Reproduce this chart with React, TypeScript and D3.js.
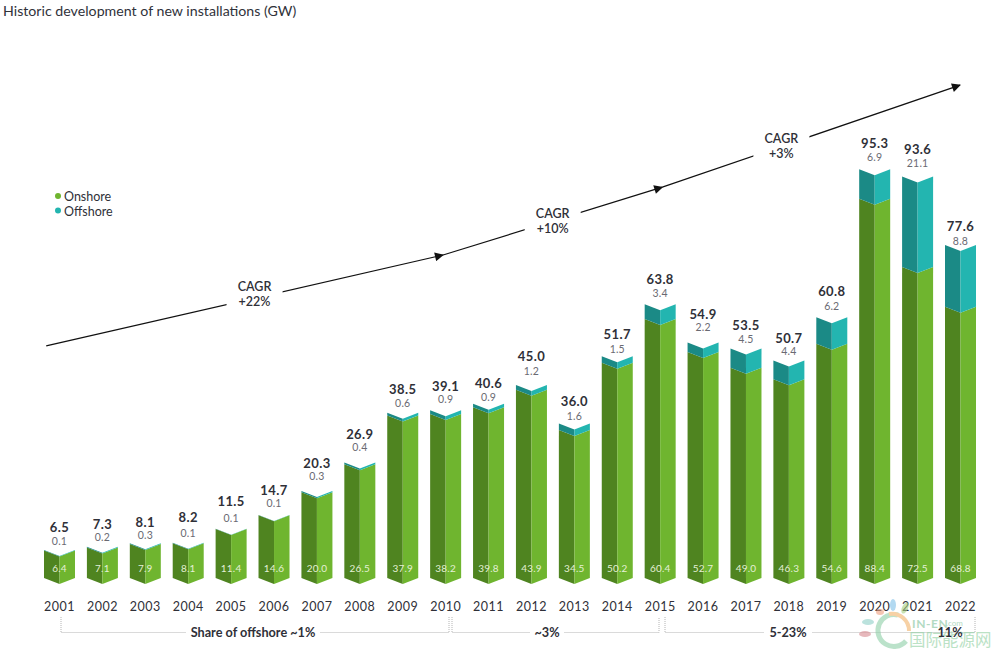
import React from "react";
import * as d3 from "d3";

const years = [2001,2002,2003,2004,2005,2006,2007,2008,2009,2010,2011,2012,2013,2014,2015,2016,2017,2018,2019,2020,2021,2022];
const onshore = [6.4,7.1,7.9,8.1,11.4,14.6,20.0,26.5,37.9,38.2,39.8,43.9,34.5,50.2,60.4,52.7,49.0,46.3,54.6,88.4,72.5,68.8];
const offshore = [0.1,0.2,0.3,0.1,0.1,0.1,0.3,0.4,0.6,0.9,0.9,1.2,1.6,1.5,3.4,2.2,4.5,4.4,6.2,6.9,21.1,8.8];
const totals = [6.5,7.3,8.1,8.2,11.5,14.7,20.3,26.9,38.5,39.1,40.6,45.0,36.0,51.7,63.8,54.9,53.5,50.7,60.8,95.3,93.6,77.6];
// The picture draws the 2022 onshore part shorter than its printed 68.8.
const onshoreDrawn = [6.4,7.1,7.9,8.1,11.4,14.6,20.0,26.5,37.9,38.2,39.8,43.9,34.5,50.2,60.4,52.7,49.0,46.3,54.6,88.4,72.5,63.2];
const arrowYears = [2000.69, 2009.94, 2015.05, 2021.99];
const arrowValues = [54.1, 75.3, 91.1, 114.9];
const cagrLabels = ["+22%", "+10%", "+3%"];

// Layout: how far above each bar its two labels sit, in px.
const totalLift = [23,22,21,25,27,24,27,28,23,24,20,28,22,22,25,28,23,22,26,26,27,19];
const subLift = [9,9,8,9,10,11,14,15,9,11,6,13,7,7,11,15,9,9,11,12,13,4];
const cagrAt = [0.525, 0.5, 0.4];
const cagrShift = [-4, 0, 0];

const FONT = "Lato, 'Noto Sans', sans-serif";
const BAR = 31, FOLD = 6;
const x = d3.scaleLinear().domain([2001, 2022]).range([59.5, 960.5]);
const y = d3.scaleLinear().domain([0, 100]).range([578, 149]);

const C = { onL: "#4f8420", onR: "#6fb52f", offL: "#1b8a86", offR: "#23b5b0", text: "#2f3038", sub: "#6a6a72" };

function segment(cx: number, a: number, b: number, side: -1 | 1) {
  const e = cx + side * BAR / 2;
  return d3.line()([[cx, y(a) + FOLD], [e, y(a)], [e, y(b)], [cx, y(b) + FOLD]]) + "Z";
}

function Bar({ i }: { i: number }) {
  const cx = x(years[i]);
  const top = y(totals[i]);
  const on = onshoreDrawn[i];
  const end = totals[i];
  return (
    <g>
      <path d={segment(cx, 0, on, -1)} fill={C.onL} />
      <path d={segment(cx, 0, on, 1)} fill={C.onR} />
      <path d={segment(cx, on, end, -1)} fill={C.offL} />
      <path d={segment(cx, on, end, 1)} fill={C.offR} />
      <text x={cx} y={top - totalLift[i] + 4.5} textAnchor="middle" fontSize={13} fontWeight={700} letterSpacing={0.4} fill={C.text}>{totals[i].toFixed(1)}</text>
      <text x={cx} y={top - subLift[i] + 3.5} textAnchor="middle" fontSize={10.5} letterSpacing={0.2} fill={C.sub}>{offshore[i].toFixed(1)}</text>
      <text x={cx} y={572} textAnchor="middle" fontSize={10} letterSpacing={0.2} fill="#e4f0d6">{onshore[i].toFixed(1)}</text>
      <text x={cx} y={611} textAnchor="middle" fontSize={12.5} letterSpacing={0.5} fill={C.text}>{years[i]}</text>
    </g>
  );
}

const bracketY = 632.5;
function Bracket({ x0, x1 }: { x0: number; x1: number }) {
  return <path d={`M${x0},617V${bracketY}H${x1}V617`} fill="none" stroke="#b4b4b4" strokeWidth={1} strokeDasharray="1 1" />;
}

export default function App() {
  const pts = arrowYears.map((yr, i) => [x(yr), y(arrowValues[i])]);
  const labelPts = pts.slice(0, 3).map((p, i) => {
    const q = pts[i + 1];
    return [p[0] + (q[0] - p[0]) * cagrAt[i], p[1] + (q[1] - p[1]) * cagrAt[i]];
  });
  return (
    <svg width={1000} height={651} style={{ position: "absolute", left: 0, top: 0, background: "#fff" }} fontFamily={FONT}>
      <defs>
        <marker id="ah" viewBox="0 0 10 10" refX="9" refY="5" markerWidth="10" markerHeight="9" orient="auto" markerUnits="userSpaceOnUse">
          <path d="M0,0L10,5L0,10Z" fill="#111" />
        </marker>
      </defs>
      <text x={3} y={16} fontSize={14.2} fill="#30323a">Historic development of new installations (GW)</text>

      <circle cx={58} cy={196} r={3} fill="#6fb52f" />
      <circle cx={58} cy={210.5} r={3} fill="#23b5b0" />
      <text x={64} y={201} fontSize={12.5} fill={C.text}>Onshore</text>
      <text x={64} y={215.5} fontSize={12.5} fill={C.text}>Offshore</text>

      {pts.slice(0, 3).map((p, i) => (
        <line key={i} x1={p[0]} y1={p[1]} x2={pts[i + 1][0]} y2={pts[i + 1][1]} stroke="#111" strokeWidth={1.2} markerEnd="url(#ah)" />
      ))}
      {labelPts.map((p, i) => <rect key={i} x={p[0] - 28} y={p[1] - 20} width={56} height={40} fill="#fff" />)}
      {labelPts.map((p, i) => (
        <g key={"l" + i} fontSize={12.5} fontWeight={600} fill={C.text} textAnchor="middle">
          <text x={p[0]} y={p[1] + cagrShift[i] - 3}>CAGR</text>
          <text x={p[0]} y={p[1] + cagrShift[i] + 12}>{cagrLabels[i]}</text>
        </g>
      ))}

      {years.map((_, i) => <Bar key={i} i={i} />)}

      <Bracket x0={61} x1={449} />
      <Bracket x0={452} x1={659} />
      <Bracket x0={665} x1={975} />
      <g fontSize={12.7} fontWeight={700} fill={C.text} textAnchor="middle">
        <rect x={186} y={624} width={134} height={16} fill="#fff" />
        <text x={253} y={636.5}>Share of offshore ~1%</text>
        <rect x={530} y={624} width={34} height={16} fill="#fff" />
        <text x={547} y={636.5}>~3%</text>
        <rect x={764} y={624} width={48} height={16} fill="#fff" />
        <text x={788} y={636.5}>5-23%</text>
      </g>

      <g opacity={0.6}>
        <path d="M906,641A16,16 0 1 1 898,615" fill="none" stroke="#8fd0a8" strokeWidth={5} />
        <path d="M889,614A17,17 0 0 1 909,631" fill="none" stroke="#f2b36a" strokeWidth={4} />
        <ellipse cx={868} cy={622} rx={6} ry={3} fill="#8fd0c8" />
        <ellipse cx={865} cy={634} rx={6} ry={3} fill="#d88a90" />
        <ellipse cx={880} cy={612} rx={4} ry={3} fill="#f0a080" />
        <ellipse cx={893} cy={605} rx={3} ry={6} fill="#80c0e8" />
        <ellipse cx={905} cy={608} rx={3} ry={6} fill="#a8d080" transform="rotate(25 905 608)" />
        <text x={912} y={628} fontSize={12} fontWeight={700} letterSpacing={0.6} fill="#7fc39a">IN-EN</text>
        <text x={946} y={626} fontSize={8} fill="#7fc39a">.com</text>
        <text x={909} y={646} fontSize={16.5} fontFamily="'Noto Sans CJK SC'" fill="#8fcfa0">国际能源网</text>
      </g>
      <text x={950} y={636.5} fontSize={12.7} fontWeight={700} fill={C.text} textAnchor="middle">11%</text>
    </svg>
  );
}
